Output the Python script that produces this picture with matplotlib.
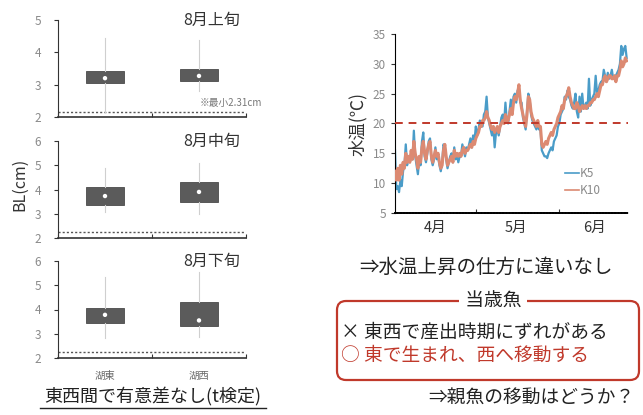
import numpy as np
import matplotlib
matplotlib.use("Agg")
import matplotlib.pyplot as plt
from matplotlib.patches import FancyBboxPatch

plt.rcParams['font.family'] = ['Noto Sans CJK JP', 'DejaVu Sans']

# ---------------- data: body length boxplots ----------------
groups = ["湖東", "湖西"]
periods = ["8月上旬", "8月中旬", "8月下旬"]
bl_med = [[3.20, 3.27], [3.73, 3.90], [3.78, 3.55]]
bl_q1 = [[3.05, 3.10], [3.37, 3.49], [3.45, 3.30]]
bl_q3 = [[3.42, 3.48], [4.11, 4.31], [4.07, 4.32]]
bl_lo = [[2.15, 2.80], [3.07, 3.00], [2.82, 2.86]]
bl_hi = [[4.44, 4.38], [4.89, 5.10], [5.34, 5.55]]
bl_ymax = [5, 6, 6]
min_line = [2.15, 2.25, 2.25]

# ---------------- data: water temperature (half-day values from Apr 1) ----------------
day_step = 0.5
k10 = [12.0, 10.5, 12.5, 10.5, 13.0, 11.5, 13.5, 12.5, 15.0, 13.5,
       14.5, 13.5, 15.5, 14.0, 17.0, 15.0, 14.0, 12.5, 14.5, 13.5,
       16.0, 17.0, 15.0, 14.0, 15.5, 16.5, 17.0, 14.5, 13.5, 14.5,
       15.5, 14.5, 15.0, 13.5, 12.5, 13.0, 15.5, 16.5, 14.5, 13.0,
       13.5, 14.0, 14.5, 13.5, 15.5, 14.5, 15.0, 14.5, 15.0, 14.5,
       15.5, 16.0, 15.0, 15.5, 15.5, 16.0, 16.5, 16.0, 17.0, 16.5,
       17.5, 18.0, 18.5, 19.5, 19.5, 20.5, 20.5, 21.0, 22.0, 21.0,
       20.5, 19.5, 19.0, 19.5, 18.5, 19.0, 19.5, 18.5, 19.5, 20.0,
       20.5, 20.0, 21.5, 20.5, 20.5, 21.5, 22.5, 21.5, 23.5, 24.5,
       24.0, 25.0, 26.5, 24.0, 22.5, 21.5, 20.5, 19.5, 21.5, 24.5,
       24.0, 22.0, 21.0, 20.5, 20.0, 19.5, 20.5, 19.5, 19.5, 16.5,
       16.0, 16.5, 17.0, 16.5, 17.5, 18.0, 18.5, 18.0, 19.0, 19.5,
       20.0, 21.0, 21.5, 22.0, 23.0, 22.5, 24.0, 24.5, 25.0, 26.0,
       24.5, 23.5, 23.0, 22.5, 22.5, 23.5, 23.0, 22.0, 22.5, 23.0,
       22.5, 23.0, 22.5, 23.0, 23.0, 23.5, 23.5, 24.0, 24.0, 24.5,
       25.0, 24.5, 25.5, 26.5, 26.5, 27.5, 28.0, 27.0, 27.5, 28.0,
       28.0, 27.5, 27.5, 28.0, 27.0, 28.0, 28.0, 29.0, 30.5, 29.5,
       30.0, 31.0, 30.5]
k5 = [15.5, 9.0, 9.5, 8.5, 10.5, 9.5, 12.0, 13.0, 16.5, 13.0,
      14.5, 13.5, 15.0, 14.0, 18.8, 14.5, 13.0, 11.5, 14.0, 13.0,
      17.0, 18.5, 14.5, 13.5, 15.0, 17.0, 17.5, 14.0, 13.0, 14.0,
      16.0, 14.0, 14.5, 13.0, 12.0, 13.5, 16.5, 16.0, 14.0, 12.5,
      13.5, 14.5, 15.0, 13.5, 16.0, 14.0, 15.0, 13.5, 14.5, 14.5,
      16.5, 15.5, 14.5, 16.0, 15.5, 16.5, 17.5, 16.0, 18.0, 17.0,
      19.5, 18.0, 19.0, 20.5, 20.0, 19.5, 21.5, 22.0, 24.5, 21.0,
      20.0, 19.0, 18.0, 19.5, 16.0, 18.5, 19.0, 18.0, 19.5, 21.0,
      21.5, 20.0, 23.5, 20.5, 20.0, 22.0, 24.0, 22.0, 24.5, 25.0,
      23.5, 25.5, 26.0, 23.5, 23.5, 21.0, 20.0, 19.0, 22.0, 25.0,
      24.0, 21.5, 20.5, 20.0, 19.5, 19.0, 20.0, 19.0, 19.0, 15.5,
      15.0, 14.5, 14.5, 14.2, 15.0, 15.5, 16.0, 15.5, 17.0, 17.5,
      18.0, 19.5, 20.0, 21.5, 22.0, 22.5, 24.5, 24.0, 25.5, 24.5,
      24.0, 23.0, 22.5, 23.5, 25.0, 22.0, 21.0, 24.5, 22.0, 25.0,
      22.5, 23.0, 23.5, 22.5, 27.5, 23.0, 24.0, 24.5, 25.0, 28.0,
      25.0, 25.5, 26.5, 27.0, 27.0, 29.0, 28.0, 27.0, 28.5, 27.5,
      28.0, 29.0, 27.5, 28.0, 28.0, 28.5, 29.0, 30.0, 33.0, 31.5,
      32.5, 33.0, 31.0]
month_labels = ["4月", "5月", "6月"]
month_starts = [0, 30, 61]
month_label_pos = [15, 45, 74]
threshold = 20

W, H = 643, 415
fig = plt.figure(figsize=(W / 100, H / 100), dpi=100)

def fr(x0, y0, x1, y1):
    return [x0 / W, 1 - y1 / H, (x1 - x0) / W, (y1 - y0) / H]

gray = "#8a8a8a"
panel_px = [(20, 117), (141, 238), (261, 358)]
for i, (t0, t1) in enumerate(panel_px):
    ax = fig.add_axes(fr(58, t0, 246, t1))
    stats = []
    for j in range(2):
        stats.append(dict(med=bl_med[i][j], q1=bl_q1[i][j], q3=bl_q3[i][j],
                          whislo=bl_lo[i][j], whishi=bl_hi[i][j], label=groups[j]))
    pos = [0.5, 1.5]
    ax.bxp(stats, positions=pos, widths=0.4, showfliers=False, patch_artist=True,
           boxprops=dict(facecolor="#5b5b5b", edgecolor="#4a4a4a", linewidth=0.6),
           whiskerprops=dict(color="#cfcfcf", linewidth=0.8),
           capprops=dict(visible=False),
           medianprops=dict(visible=False), zorder=3)
    ax.scatter(pos, bl_med[i], s=10, color="white", zorder=5, edgecolors="none")
    ax.axhline(min_line[i], color="#555555", linestyle=(0, (1.5, 1.5)), linewidth=1.0, zorder=2)
    ax.set_xlim(0, 2)
    ax.set_ylim(2, bl_ymax[i])
    ax.set_yticks(range(2, bl_ymax[i] + 1))
    ax.set_xticks([0, 1, 2])
    ax.set_xticklabels([])
    if i == 2:
        ax.set_xticks(pos, minor=True)
        ax.set_xticklabels(groups, minor=True, fontsize=7.5, color="#6a6a6a")
        ax.tick_params(axis="x", which="minor", length=0, pad=9)
    for s in ("top", "right"):
        ax.spines[s].set_visible(False)
    ax.spines["left"].set_color("#333333")
    ax.spines["bottom"].set_color("#333333")
    ax.spines["bottom"].set_linewidth(1.2)
    ax.tick_params(axis="y", labelsize=8.5, labelcolor=gray, length=3, color="#333333", pad=14)
    ax.tick_params(axis="x", which="major", length=3, direction="in", color="#333333")
    for lab in ax.get_yticklabels():
        lab.set_horizontalalignment("left")
    ax.set_facecolor("none")
    ax.text(0.82, 1.0, periods[i], transform=ax.transAxes, ha="center", va="center",
            fontsize=11.5, color="#333333")

fig.text(20 / W, 1 - 184 / H, "BL(cm)", rotation=90, ha="center", va="center",
         fontsize=11.5, color="#333333")

# ---------------- temperature chart ----------------
ax2 = fig.add_axes(fr(395, 34, 628, 213))
days = np.arange(len(k10)) * day_step
ax2.plot(days, k5, color="#4a9cc8", linewidth=1.6, label="K5", zorder=2)
ax2.plot(days, k10, color="#dc8a72", linewidth=2.2, label="K10", zorder=3)
ax2.axhline(threshold, color="#c0392b", linestyle=(0, (4, 3)), linewidth=1.4, zorder=4)
ax2.set_xlim(0, 86.5)
ax2.set_ylim(5, 35)
ax2.set_yticks(range(5, 36, 5))
ax2.set_xticks(month_starts[1:])
ax2.set_xticklabels([])
ax2.set_xticks(month_label_pos, minor=True)
ax2.set_xticklabels(month_labels, minor=True, fontsize=10.5, color="#333333")
ax2.tick_params(axis="x", which="minor", length=0, pad=6)
ax2.tick_params(axis="x", which="major", length=3, direction="in", color="#333333")
ax2.tick_params(axis="y", labelsize=8.5, labelcolor=gray, length=3, color="#333333")
for s in ("top", "right"):
    ax2.spines[s].set_visible(False)
ax2.spines["bottom"].set_linestyle((0, (1, 0.6)))
ax2.spines["bottom"].set_linewidth(1.4)
ax2.set_ylabel("水温(℃)", fontsize=12.5, color="#333333", labelpad=4)
leg = ax2.legend(loc="lower right", bbox_to_anchor=(0.93, 0.03), frameon=False, fontsize=8.5,
                 handlelength=1.2, handletextpad=0.1, labelspacing=0.3)
for t in leg.get_texts():
    t.set_color(gray)
for ln in leg.get_lines():
    ln.set_linewidth(1.2)

# ---------------- annotation layer (pixel coordinates) ----------------
ov = fig.add_axes([0, 0, 1, 1])
ov.set_xlim(0, W)
ov.set_ylim(H, 0)
ov.axis("off")
ov.set_zorder(10)

ov.text(200, 103, "※最小2.31cm", fontsize=7, color="#777777", ha="left", va="center")
ov.text(153, 396, "東西間で有意差なし(t検定)", fontsize=13, color="#222222", ha="center", va="center")
ov.plot([40, 266], [408, 408], color="#222222", linewidth=1.0)
ov.text(486, 267, "⇒水温上昇の仕方に違いなし", fontsize=14, color="#222222", ha="center", va="center")
box = FancyBboxPatch((337, 301), 302, 79, boxstyle="round,pad=0,rounding_size=9",
                     facecolor="none", edgecolor="#c0392b", linewidth=1.6)
ov.add_patch(box)
ov.text(493, 301, " 当歳魚 ", fontsize=13.5, color="#222222", ha="center", va="center",
        bbox=dict(facecolor="white", edgecolor="none", pad=1))
ov.text(341, 332, "× 東西で産出時期にずれがある", fontsize=13.5, color="#222222", ha="left", va="center")
ov.text(341, 355, "○ 東で生まれ、西へ移動する", fontsize=13.5, color="#c0392b", ha="left", va="center")
ov.text(428, 397, "⇒親魚の移動はどうか？", fontsize=13.5, color="#222222", ha="left", va="center")

fig.savefig("out.png", dpi=100)
